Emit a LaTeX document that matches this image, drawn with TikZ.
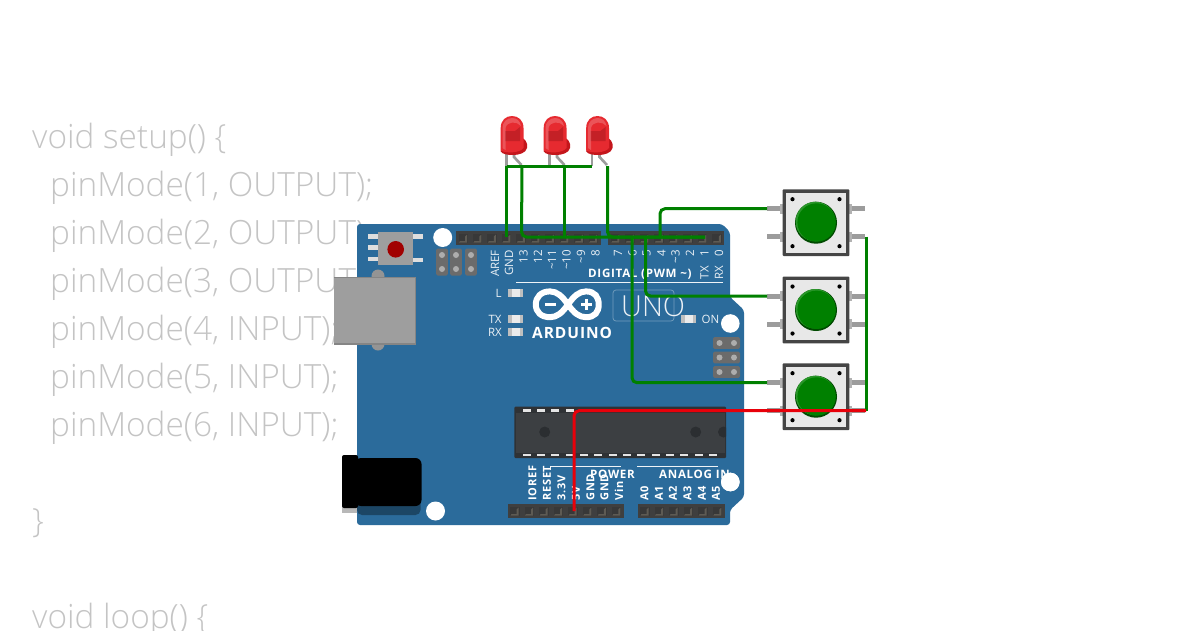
\documentclass[tikz,border=0pt]{standalone}
\usepackage{fontspec}
\setmainfont{Open Sans}
\newfontfamily\codefont{Open Sans Light}
\newfontfamily\labfont{Open Sans}
\newfontfamily\boldlab[LetterSpace=6]{Open Sans Bold}
\definecolor{boardblue}{HTML}{2B6B9B}
\definecolor{codegray}{HTML}{C4C4C4}
\definecolor{hdr}{HTML}{3F3F3F}
\definecolor{hdrpin}{HTML}{5E5B54}
\definecolor{wiregreen}{HTML}{008000}
\definecolor{wirered}{HTML}{E8000A}
\definecolor{legray}{HTML}{9C9C9C}
\definecolor{chipedge}{HTML}{2F3235}
\definecolor{chipface}{HTML}{3C3F42}
\definecolor{chipdot}{HTML}{2B2E31}
\definecolor{ledmain}{HTML}{E62A30}
\definecolor{leddark}{HTML}{C4161C}
\definecolor{ledchip}{HTML}{C42026}
\definecolor{btndark}{HTML}{004A00}
\definecolor{btnlight}{HTML}{2A962A}
\tikzset{
  codeline/.style={anchor=base west,inner sep=0pt,text=codegray,font=\codefont\fontsize{33.4}{40}\selectfont},
  pinlab/.style={inner sep=0pt,text=white!90!boardblue,rotate=90,anchor=east,font=\labfont\fontsize{11.5}{12}\selectfont},
  powlab/.style={inner sep=0pt,text=white,rotate=90,anchor=west,font=\boldlab\fontsize{11}{12}\selectfont},
  headlab/.style={inner sep=0pt,text=white,anchor=base west,font=\boldlab\fontsize{11.6}{12}\selectfont},
  smalllab/.style={inner sep=0pt,text=white!90!boardblue,font=\labfont\fontsize{11.5}{12}\selectfont},
  wirelink/.style={line width=3pt,rounded corners=5pt},
  greenwire/.style={wirelink,draw=wiregreen},
  redwire/.style={wirelink,draw=wirered},
  ledleg/.style={draw=legray,line width=2.6pt},
  silk/.style={draw=white!92!boardblue,line width=1pt},
}
\newcommand{\hdrrow}[4]{% x0, y top, n pins, pitch
  \pgfmathsetmacro{\hdrw}{#3*#4}
  \fill[hdr] (#1,#2) rectangle ++(\hdrw,14);
  \pgfmathsetmacro{\lastpin}{int(#3-1)}
  \foreach \i in {0,...,\lastpin}{
    \pgfmathsetmacro{\pinx}{#1+\i*#4}
    \fill[black!78] (\pinx+2.5,#2+2.5) rectangle ++(9.5,9);
    \fill[hdrpin] (\pinx+4,#2+10) -- (\pinx+9,#2+10) -- (\pinx+9,#2+5.5) -- (\pinx+11,#2+3.5) -- (\pinx+11,#2+11.5) -- (\pinx+3,#2+11.5) -- cycle;
  }
}
\newcommand{\smd}[2]{% chip led at centre
  \fill[black!25] (#1-7.5,#2-4) rectangle (#1+7.5,#2+4);
  \fill[white!92!black] (#1-3.5,#2-4) rectangle (#1+4.5,#2+4);
}
\newcommand{\pushbutton}[3]{% name, cx, cy
  \fill[legray] (#2-49,#3-16.5) rectangle (#2-34,#3-11.5);
  \fill[legray] (#2-49,#3+11.5) rectangle (#2-34,#3+16.5);
  \fill[legray] (#2+33,#3-16.5) rectangle (#2+49,#3-11.5);
  \fill[legray] (#2+33,#3+11.5) rectangle (#2+49,#3+16.5);
  \fill[black!30] (#2-36,#3-19) rectangle (#2-33,#3-9);
  \fill[black!30] (#2-36,#3+9) rectangle (#2-33,#3+19);
  \fill[black!30] (#2+33,#3-19) rectangle (#2+36,#3-9);
  \fill[black!30] (#2+33,#3+9) rectangle (#2+36,#3+19);
  \fill[black!73,rounded corners=1pt] (#2-33.4,#3-33.4) rectangle (#2+33.4,#3+33.4);
  \fill[black!9] (#2-30,#3-30) rectangle (#2+30,#3+30);
  \foreach \sx in {-1,1}\foreach \sy in {-1,1}{\fill[black] (#2+\sx*23.5,#3+\sy*23.5) circle (2.1pt);}
  \fill[btndark] (#2,#3) circle (21pt);
  \fill[btnlight] (#2-0.6,#3-1.2) circle (19.8pt);
  \fill[wiregreen] (#2+0.6,#3-0.2) circle (19.2pt);
  \coordinate (#1-a) at (#2-49,#3-14);
  \coordinate (#1-b) at (#2-49,#3+14);
  \coordinate (#1-c) at (#2+50,#3+14);
}
\newcommand{\ledbody}[2]{% name, cx
  \draw[ledleg] (#2-6.5,152) -- (#2-6.5,166);
  \draw[ledleg] (#2+1,154) -- (#2+1,157) -- (#2+8.5,165);
  \fill[leddark] (#2+5,136) .. controls (#2+12,138) and (#2+15,142) .. (#2+14,148) .. controls (#2+13,153) and (#2+6,155) .. (#2,155) .. controls (#2-5,155) and (#2-11,154.5) .. (#2-12.5,151) -- cycle;
  \fill[ledmain] (#2-12.3,150.5) -- (#2-12.3,128) .. controls (#2-12.3,120) and (#2-7,116) .. (#2-1,116) .. controls (#2+5,116) and (#2+10.5,120) .. (#2+10.5,128) -- (#2+10.5,148) .. controls (#2+7,153) and (#2-7,153.5) .. (#2-12.3,150.5) -- cycle;
  \fill[ledchip] (#2-8,131) -- (#2+2,131) -- (#2+7,127) -- (#2+7,141) -- (#2-8,141) -- cycle;
  \fill[white,opacity=.2] (#2-10.5,148) -- (#2-10.5,128) .. controls (#2-10.5,122) and (#2-6,118) .. (#2-1,118) .. controls (#2+4,118) and (#2+7,121) .. (#2+8,126) .. controls (#2+4,121) and (#2-6,121) .. (#2-7.5,128) -- (#2-7.5,150) -- cycle;
  \coordinate (#1-a) at (#2-6.5,166);
  \coordinate (#1-c) at (#2+9,166);
}
\begin{document}
\begin{tikzpicture}[x=1pt,y=-1pt]
\useasboundingbox (0,0) rectangle (1200,630);
\clip (0,0) rectangle (1200,630);
% code
\node[codeline] (c1) at (32,148) {void setup() \{};
\node[codeline] (c2) at (50,196) {pinMode(1, OUTPUT);};
\node[codeline] (c3) at (50,244) {pinMode(2, OUTPUT);};
\node[codeline] (c4) at (50,292) {pinMode(3, OUTPUT);};
\node[codeline] (c5) at (50,340) {pinMode(4, INPUT);};
\node[codeline] (c6) at (50,388) {pinMode(5, INPUT);};
\node[codeline] (c7) at (50,436) {pinMode(6, INPUT);};
\node[codeline] (c8) at (32,532) {\}};
\node[codeline] (c9) at (32,628) {void loop() \{};
% board
\fill[boardblue,rounded corners=3pt] (357,224) -- (722,224) -- (730,232) -- (730,297) -- (744,310) -- (744,497) -- (730,510) -- (730,525) -- (357,525) -- cycle;
% holes
\fill[white] (442.7,237.5) circle (9.5pt);
\fill[white] (730.3,323.5) circle (9.3pt);
\fill[white] (730.3,482) circle (9.3pt);
\fill[white] (435.5,511) circle (9.5pt);
% reset button
\foreach \yy in {236.7,247.7,259}{\fill[black!13] (368,\yy-2.3) rectangle (379,\yy+2.3);}
\foreach \yy in {236.7,260}{\fill[black!13] (412,\yy-2.3) rectangle (423,\yy+2.3);}
\fill[black!38] (378,232) rectangle (413,265);
\fill[red!63!black] (395.7,249.3) circle (8.3pt);
% ICSP top
\foreach \xx in {442,456,471}{
  \fill[black!58,rounded corners=1.5pt] (\xx-5.8,248.5) rectangle (\xx+5.8,275.5);
  \foreach \yy in {255,269}{\fill[black!32] (\xx,\yy) circle (3pt);}
}
% ICSP right
\foreach \yy in {343,357.5,372}{
  \fill[black!58,rounded corners=1.5pt] (713,\yy-5.8) rectangle (740,\yy+5.8);
  \foreach \xx in {719.5,734}{\fill[black!32] (\xx,\yy) circle (3pt);}
}
% usb
\fill[black!42] (378,276) circle (6.5pt);
\fill[black!42] (378,344) circle (6.5pt);
\fill[black!48] (334,277) rectangle (416,344.5);
\fill[black!38] (334,277.5) rectangle (414.5,342.5);
% power jack
\fill[boardblue!65!black,rounded corners=5pt] (357,480) rectangle (420.5,515);
\fill[black!28] (342,480) rectangle (357,513);
\fill[black,rounded corners=2pt] (342,455) rectangle (358,508);
\fill[black,rounded corners=6pt] (355,458) rectangle (421.5,506);
% chip
\fill[chipedge,rounded corners=1pt] (514.3,406.7) rectangle (726,458);
\fill[chipface] (516,413) rectangle (725,452.5);
\foreach \i in {0,...,13}{
  \pgfmathsetmacro{\dashx}{526.7+\i*14.33}
  \fill[black!10] (\dashx-4,409.3) rectangle (\dashx+4,411.9);
  \fill[black!10] (\dashx-4,453.8) rectangle (\dashx+4,456.4);
}
\begin{scope}
\clip (514.3,406.7) rectangle (726,458);
\fill[chipdot] (544.7,432) circle (5.5pt);
\fill[chipdot] (695.7,432) circle (5.5pt);
\fill[chipdot] (723.5,432) circle (5.5pt);
\end{scope}
% headers
\hdrrow{456}{231}{10}{14.47}
\hdrrow{608.3}{231}{8}{14.5}
\hdrrow{507.5}{504}{8}{14.55}
\hdrrow{637.5}{504}{6}{14.55}
% top labels
\node[pinlab] (l1) at (495,250) {AREF};
\node[pinlab] (l2) at (509,250) {GND};
\node[pinlab] (l3) at (523.5,250) {13};
\node[pinlab] (l4) at (538,250) {12};
\node[pinlab] (l5) at (552,250) {\textasciitilde 11};
\node[pinlab] (l6) at (566.5,250) {\textasciitilde 10};
\node[pinlab] (l7) at (581,250) {\textasciitilde 9};
\node[pinlab] (l8) at (595.5,250) {8};
\node[pinlab] (l9) at (618,250) {7};
\node[pinlab] (l10) at (632.5,250) {6};
\node[pinlab] (l11) at (646.5,250) {5};
\node[pinlab] (l12) at (661.5,250) {4};
\node[pinlab] (l13) at (675.5,250) {\textasciitilde 3};
\node[pinlab] (l14) at (690,250) {2};
\node[pinlab] (l15) at (704.5,250) {1};
\node[pinlab] (l16) at (719,250) {0};
\node[pinlab] (l17) at (704.5,266) {TX};
\node[pinlab] (l18) at (719,266) {RX};
\node[headlab] (dig) at (588,277) {DIGITAL (PWM \textasciitilde )};
\draw[silk] (516,282.3) -- (723,282.3);
% logo
\draw[white,line width=6pt] (568,304.5) .. controls (562,296) and (557,291.4) .. (550,291.4) .. controls (541,291.4) and (535.8,297) .. (535.8,304.5) .. controls (535.8,312) and (541,317.2) .. (550,317.2) .. controls (557,317.2) and (562,313) .. (568,304.5) .. controls (574,296) and (579,291.4) .. (586,291.4) .. controls (595,291.4) and (598.7,297) .. (598.7,304.5) .. controls (598.7,312) and (595,317.2) .. (586,317.2) .. controls (579,317.2) and (574,313) .. (568,304.5) -- cycle;
\fill[white] (545,303) rectangle (556,306);
\fill[white] (581,303) rectangle (591.5,306);
\fill[white] (584.8,299.2) rectangle (587.8,309.8);
\node[inner sep=0pt,anchor=base west,text=white,font=\boldlab\fontsize{15.5}{16}\selectfont] (ard) at (532,338) {ARDUINO};
\node[inner sep=0pt,anchor=base west,text=white!90!boardblue,font=\codefont\fontsize{29}{30}\selectfont] (uno) at (621,316) {UNO};
\draw[white,opacity=.35,rounded corners=3pt,line width=.7pt] (613,290) rectangle (674,321);
% small leds
\smd{515}{293}
\smd{515}{319}
\smd{515}{331.5}
\smd{688}{318.5}
\node[smalllab] (tl) at (498.5,293) {L};
\node[smalllab] (tx) at (495,319) {TX};
\node[smalllab] (rx) at (495,332) {RX};
\node[smalllab] (on) at (710.5,319) {ON};
% bottom labels
\node[powlab] (b1) at (532.5,500.5) {IOREF};
\node[powlab] (b2) at (547,500.5) {RESET};
\node[powlab] (b3) at (561.5,500.5) {3.3V};
\node[powlab] (b4) at (576,500.5) {5V};
\node[powlab] (b5) at (590.5,500.5) {GND};
\node[powlab] (b6) at (604.5,500.5) {GND};
\node[powlab] (b7) at (619,500.5) {Vin};
\node[powlab] (b8) at (644.5,500.5) {A0};
\node[powlab] (b9) at (659,500.5) {A1};
\node[powlab] (b10) at (673,500.5) {A2};
\node[powlab] (b11) at (687.5,500.5) {A3};
\node[powlab] (b12) at (702,500.5) {A4};
\node[powlab] (b13) at (716,500.5) {A5};
\node[headlab] (pw) at (590,478) {POWER};
\node[headlab] (an) at (659,478) {ANALOG IN};
\draw[silk] (550.5,470) -- (550.5,466) -- (621,466);
\draw[silk] (637,466) -- (718,466);
\fill[white] (730.3,482) circle (9.3pt);
% leds
\ledbody{ledA}{513}
\ledbody{ledB}{556}
\ledbody{ledC}{598.5}
% buttons
\pushbutton{btnA}{816}{222.7}
\pushbutton{btnB}{816}{310}
\pushbutton{btnC}{816}{396.7}
% wire ends on the board
\coordinate (gnd) at (506.5,237);
\coordinate (d13) at (521.5,237);
\coordinate (d10) at (564.5,237);
\coordinate (d8) at (607.5,237);
\coordinate (d1) at (705,237);
\coordinate (d4) at (660,237);
\coordinate (d5) at (645.5,237);
\coordinate (d6) at (632,237);
\coordinate (v5) at (574,511);
\coordinate (ledBa) at (564.5,166);
\coordinate (ledCa) at (592,166);
% wires
\draw[greenwire] (ledA-a) -- (ledCa);
\draw[greenwire] (ledA-a) -- (gnd);
\draw[greenwire] (ledBa) -- (d10);
\draw[greenwire] (ledA-c |- ledBa) -- (d13) -- (d1);
\draw[greenwire] (ledC-c) -- (d8) -- (d1);
\draw[greenwire] (btnA-a) -| (d4);
\draw[greenwire] (btnB-a) -| (d5);
\draw[greenwire] (btnC-a) -| (d6);
\draw[greenwire,rounded corners=0pt] (btnA-c) -- (btnC-b -| btnA-c);
\draw[redwire] (btnC-c) -- (btnC-b) -- (btnC-b -| v5) -- (v5);
\end{tikzpicture}
\end{document}
